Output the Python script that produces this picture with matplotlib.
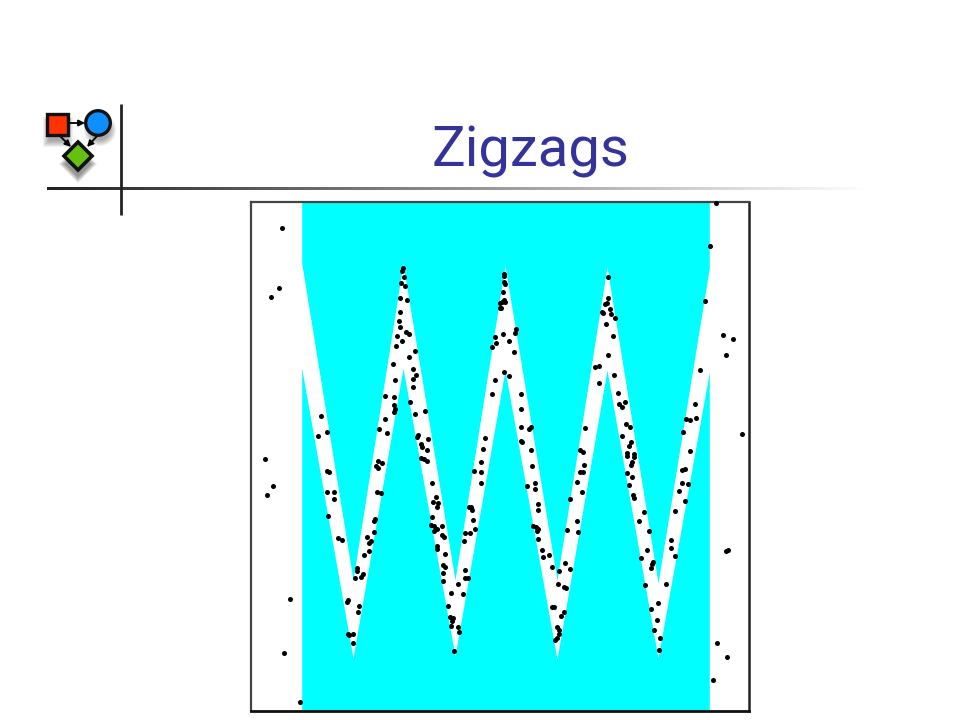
import numpy as np
import matplotlib
matplotlib.use("Agg")
import matplotlib.pyplot as plt
from matplotlib.patches import Rectangle, Circle, Polygon

# band edges of the zigzag, x shared by both
edge_x = [50.7, 102, 152, 204, 254, 306, 356, 407, 458.3]
upper_y = [448, 131, 447, 131, 445, 131, 444, 128, 443]
lower_y = [343, 53, 343, 55, 341, 52, 341, 53, 339]

pts_x = [31, 28, 20, 152, 151, 153, 150, 154, 149, 156, 149, 148, 149, 155, 158, 146, 151, 145, 164, 158,
         142, 162, 165, 162, 144, 162, 134, 143, 159, 143, 144, 143, 174, 164, 134, 70, 128, 76, 67, 136,
         167, 166, 177, 170, 171, 176, 234, 232, 241, 244, 241, 245, 244, 249, 249,
         465, 459, 454, 472, 482, 475, 449, 444, 445, 435, 439, 432, 491, 439, 357, 357, 356, 354, 359, 351,
         352, 360, 364, 355, 362, 357, 344, 348, 363, 348, 367, 374, 368, 371, 375, 379, 334, 371, 380, 378,
         329, 332, 376, 383, 253, 253, 253, 254, 252, 253, 254, 251, 250, 252, 265, 264, 258, 263, 253, 258,
         270, 270, 270, 280, 278, 270, 271, 280,
         14, 22, 16, 39, 33, 49, 76, 78, 76, 83, 83, 77, 87, 91, 106, 106, 104, 112, 110, 97,
         96, 108, 107, 97, 98, 102, 102, 113, 118, 118, 120, 116, 123, 123, 124, 126, 130, 127, 131, 125,
         127, 170, 173, 176, 181, 185, 182, 187, 186, 181, 180, 183, 191, 186, 183, 191, 193, 186, 186, 194,
         192, 194, 192, 192, 207, 200, 212, 197, 199, 202, 201, 200, 207, 208, 203, 214, 214, 217, 213, 214,
         219, 224, 222, 218, 220, 221, 223, 230, 230, 230,
         281, 276, 284, 284, 287, 287, 282, 285, 287, 286, 287, 291, 292, 298, 301, 308, 314, 319, 307, 313,
         315, 301, 303, 313, 310, 306, 308, 308, 306, 304, 316, 326, 327, 319, 331, 326, 329, 332, 333, 376,
         381, 378, 380, 381, 376, 383, 382, 383, 393, 388, 398, 396, 390, 402, 401, 400, 394, 407, 400, 406,
         403, 409, 408, 415, 424, 420, 420, 424, 434, 428, 431, 437, 431, 434, 475, 477, 466, 476, 462]
pts_y = [483, 423, 414, 443, 440, 434, 428, 425, 413, 411, 399, 390, 384, 379, 377, 375, 370, 365, 360, 354,
         347, 342, 336, 332, 331, 324, 315, 314, 309, 306, 302, 299, 300, 297, 292, 295, 282, 279, 275, 278,
         276, 274, 272, 267, 264, 261, 273, 262, 317, 331, 364, 368, 374, 408, 403,
         508, 465, 410, 376, 372, 356, 341, 307, 293, 292, 291, 279, 277, 260, 434, 413, 408, 407, 402, 399,
         398, 397, 393, 387, 375, 356, 344, 345, 336, 328, 318, 309, 307, 304, 287, 284, 283, 275, 269, 265,
         261, 259, 258, 257, 437, 435, 429, 427, 419, 411, 409, 409, 403, 377, 382, 378, 370, 359, 339, 335,
         317, 302, 284, 284, 282, 270, 269, 261,
         252, 225, 216, 112, 58, 9, 240, 239, 219, 219, 212, 195, 173, 171, 143, 140, 133, 137, 134, 111,
         109, 105, 99, 77, 76, 77, 68, 156, 160, 168, 170, 174, 179, 190, 192, 219, 218, 250, 248, 245,
         243, 253, 252, 250, 228, 214, 209, 208, 204, 194, 186, 185, 185, 182, 180, 176, 174, 165, 162, 157,
         146, 144, 138, 130, 127, 118, 117, 105, 94, 93, 90, 85, 84, 79, 60, 141, 133, 133, 170, 178,
         178, 182, 191, 204, 204, 201, 240, 249, 239, 228,
         245, 225, 228, 222, 207, 201, 185, 184, 182, 180, 172, 161, 154, 156, 144, 140, 148, 142, 127, 124,
         123, 104, 104, 99, 95, 84, 81, 77, 73, 71, 181, 190, 179, 212, 219, 229, 239, 239, 246, 238,
         234, 226, 246, 249, 255, 254, 216, 213, 199, 190, 180, 161, 153, 149, 147, 143, 126, 108, 102, 91,
         81, 73, 61, 127, 155, 171, 163, 200, 210, 220, 228, 227, 241, 242, 160, 161, 68, 54, 31]

fig = plt.figure(figsize=(9.6, 7.2), dpi=100)

# plot box, same pixel spacing as the picture
ax = fig.add_axes([251 / 960, 1 - 711 / 720, 498 / 960, 509 / 720])
ax.set_xlim(0, 498)
ax.set_ylim(0, 509)
ax.set_xticks([])
ax.set_yticks([])
ax.spines["top"].set(linewidth=1.6, color="#444444")
ax.spines["left"].set(linewidth=1.6, color="#444444")
ax.spines["right"].set(linewidth=1.8, color="#222222")
ax.spines["bottom"].set(linewidth=2.0, color="#111111")
ax.fill_between(edge_x, upper_y, 509, color="#00ffff", lw=0, zorder=1)
ax.fill_between(edge_x, 0, lower_y, color="#00ffff", lw=0, zorder=1)
ax.scatter(pts_x, pts_y, s=13, color="black", lw=0, zorder=3, clip_on=False)

# slide furniture goes on a full figure axes in pixel coordinates
bg = fig.add_axes([0, 0, 1, 1], zorder=-1)
bg.axis("off")

# rule fades linearly to white
grad = np.linspace(0, 1, 256).reshape(1, -1)
cmap = matplotlib.colors.LinearSegmentedColormap.from_list("rule", ["#222222", "#ffffff"])
bg.imshow(grad, extent=(47, 870, 190, 187), cmap=cmap, aspect="auto", zorder=1)
bg.set_xlim(0, 960)
bg.set_ylim(720, 0)
bg.plot([121.3, 121.3], [104, 215], color="#222222", lw=2.0, solid_capstyle="butt", zorder=2)

# soft logo shadows, a stack of faint growing shapes
for grow in [4, 3, 2, 1, 0, -1, -2]:
    bg.add_patch(Rectangle((47 - grow, 121 - grow), 22 + 2 * grow, 22 + 2 * grow, color="black", alpha=0.055, lw=0, zorder=2))
    bg.add_patch(Circle((100, 130), 12 + grow, color="black", alpha=0.055, lw=0, zorder=2))
    bg.add_patch(Polygon([[78, 149 - grow], [93 + grow, 164], [78, 179 + grow], [63 - grow, 164]], color="black", alpha=0.07, lw=0, zorder=2))
# logo arrows
arrow = dict(arrowstyle="-|>", color="black", lw=1.3, mutation_scale=9, shrinkA=0, shrinkB=0)
bg.annotate("", xy=(85, 123), xytext=(68, 123), arrowprops=arrow, zorder=3)
bg.annotate("", xy=(71, 147), xytext=(59, 135), arrowprops=arrow, zorder=3)
bg.annotate("", xy=(87, 147), xytext=(98, 135), arrowprops=arrow, zorder=3)
# logo shapes
bg.add_patch(Rectangle((47, 113.5), 21, 21, fc="#ff3300", ec="#111111", lw=2.4, zorder=4))
bg.add_patch(Circle((98, 123), 12.3, fc="#0f8fff", ec="#111111", lw=2.4, zorder=4))
bg.add_patch(Polygon([[78, 142], [92, 156], [78, 170], [64, 156]], fc="#66c010", ec="#111111", lw=2.6, zorder=4))

bg.text(530.5, 167, "Zigzags", color="#333399", fontsize=40.5, family="Roboto", ha="center", va="baseline")

fig.savefig("out.png", dpi=100)
